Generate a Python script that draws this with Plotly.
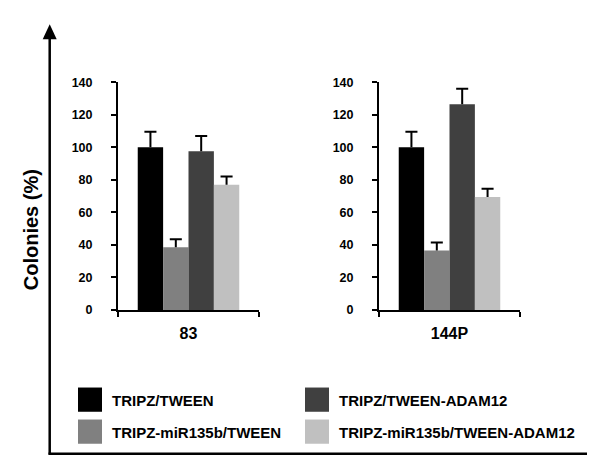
import plotly.graph_objects as go

# ---------------- data ----------------
categories = ["83", "144P"]
series_names = ["TRIPZ/TWEEN", "TRIPZ-miR135b/TWEEN", "TRIPZ/TWEEN-ADAM12", "TRIPZ-miR135b/TWEEN-ADAM12"]
vals_tween = [100, 100]
vals_mir_tween = [38.5, 36.5]
vals_tween_adam = [97.5, 126.5]
vals_mir_tween_adam = [77, 69.5]
err_tween = [9.5, 9.5]
err_mir_tween = [5, 5]
err_tween_adam = [9.5, 9.5]
err_mir_tween_adam = [5, 5]
y_ticks = [0, 20, 40, 60, 80, 100, 120, 140]
y_title = "Colonies (%)"

series_vals = [vals_tween, vals_mir_tween, vals_tween_adam, vals_mir_tween_adam]
series_errs = [err_tween, err_mir_tween, err_tween_adam, err_mir_tween_adam]

# ---------------- style ----------------
colors = ["#000000", "#808080", "#404040", "#c0c0c0"]
W, H = 595, 457
FONT = "Liberation Sans, Arial, Helvetica, sans-serif"


def px(x):
    return x / W


def py(y):
    return 1 - y / H


x_domains = [[px(110), px(251)], [px(371), px(512)]]
y_domain = [py(304.3), py(69.3)]

fig = go.Figure()

for ci, cat in enumerate(categories):
    xa = "x" if ci == 0 else "x2"
    ya = "y" if ci == 0 else "y2"
    for si, name in enumerate(series_names):
        v = series_vals[si][ci]
        e = series_errs[si][ci]
        fig.add_trace(go.Bar(
            x=[cat], y=[v], name=name, xaxis=xa, yaxis=ya,
            marker=dict(color=colors[si], line=dict(width=0)),
            offsetgroup=f"g{si}", showlegend=False, hoverinfo="skip",
        ))
        fig.add_trace(go.Scatter(
            x=[cat], y=[v + e], xaxis=xa, yaxis=ya, mode="markers",
            orientation="v", offsetgroup=f"g{si}",
            marker=dict(symbol="line-ew", size=8.6, color="black",
                        line=dict(width=2, color="black")),
            error_y=dict(type="data", symmetric=False, array=[0], arrayminus=[e],
                         width=0, thickness=2, color="black"),
            showlegend=False, hoverinfo="skip",
        ))

axis_common_x = dict(
    type="category", showline=True, linecolor="black", linewidth=2,
    ticks="outside", tickson="boundaries", ticklen=5, tickwidth=2, tickcolor="black",
    tickfont=dict(family=FONT, size=16, color="black", weight=700),
    showgrid=False, zeroline=False, fixedrange=True, ticklabelstandoff=8,
)
axis_common_y = dict(
    range=[0, 140], tickvals=y_ticks, showline=True, linecolor="black", linewidth=2,
    ticks="outside", ticklen=5, tickwidth=2, tickcolor="black",
    tickfont=dict(family=FONT, size=12.5, color="black", weight=700),
    showgrid=False, zeroline=False, fixedrange=True, ticklabelstandoff=16,
    domain=y_domain,
)

shapes = []
annotations = []

# big axis arrows
lw = 2.5
shapes.append(dict(type="line", xref="paper", yref="paper",
                   x0=px(41.7), x1=px(41.7), y0=py(453.5), y1=py(24),
                   line=dict(color="black", width=lw)))
shapes.append(dict(type="path", xref="paper", yref="paper",
                   path=f"M {px(41.7)},{py(9.5)} L {px(34.7)},{py(25)} L {px(48.7)},{py(25)} Z",
                   fillcolor="black", line=dict(color="black", width=0)))
shapes.append(dict(type="line", xref="paper", yref="paper",
                   x0=px(40.5), x1=px(583), y0=py(452.7), y1=py(452.7),
                   line=dict(color="black", width=lw)))
shapes.append(dict(type="path", xref="paper", yref="paper",
                   path=f"M {px(595)},{py(452.7)} L {px(581)},{py(445.7)} L {px(581)},{py(459.7)} Z",
                   fillcolor="black", line=dict(color="black", width=0)))

# legend (drawn manually)
col_x = [70, 297]
row_y = [384.3, 417.3]
for si, name in enumerate(series_names):
    col = si // 2
    row = si % 2
    x0 = col_x[col]
    y0 = row_y[row]
    shapes.append(dict(type="rect", xref="paper", yref="paper",
                       x0=px(x0), x1=px(x0 + 24), y0=py(y0 + 25), y1=py(y0),
                       fillcolor=colors[si], line=dict(width=0)))
    annotations.append(dict(xref="paper", yref="paper", x=px(x0 + 32), y=py(y0 + 13),
                            xanchor="left", yanchor="middle", showarrow=False,
                            text=name,
                            font=dict(family=FONT, size=15, color="black", weight=700)))

annotations.append(dict(xref="paper", yref="paper", x=px(23.3), y=py(221.7),
                        xanchor="center", yanchor="middle", showarrow=False,
                        text=y_title, textangle=-90,
                        font=dict(family=FONT, size=20, color="black", weight=700)))

fig.update_layout(
    width=W, height=H, margin=dict(l=0, r=0, t=0, b=0),
    paper_bgcolor="white", plot_bgcolor="white",
    barmode="group", bargap=0.28, bargroupgap=0,
    scattermode="group", scattergap=0.28,
    showlegend=False,
    xaxis=dict(domain=x_domains[0], anchor="y", **axis_common_x),
    yaxis=dict(anchor="x", **axis_common_y),
    xaxis2=dict(domain=x_domains[1], anchor="y2", **axis_common_x),
    yaxis2=dict(anchor="x2", **axis_common_y),
    shapes=shapes, annotations=annotations,
)

fig.write_html("out.html")
